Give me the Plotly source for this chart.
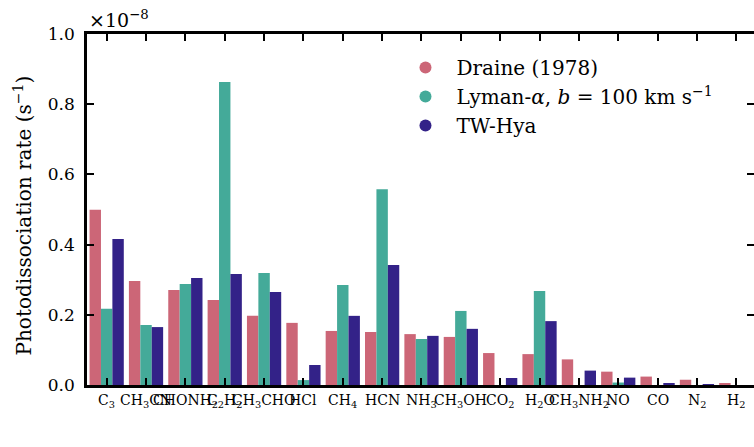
import plotly.graph_objects as go

molecules = ["C<sub>3</sub>", "CH<sub>3</sub>CN", "CHONH<sub>2</sub>", "C<sub>2</sub>H<sub>2</sub>",
             "CH<sub>3</sub>CHO", "HCl", "CH<sub>4</sub>", "HCN", "NH<sub>3</sub>",
             "CH<sub>3</sub>OH", "CO<sub>2</sub>", "H<sub>2</sub>O", "CH<sub>3</sub>NH<sub>2</sub>",
             "NO", "CO", "N<sub>2</sub>", "H<sub>2</sub>"]

draine = [0.499, 0.296, 0.271, 0.242, 0.197, 0.177, 0.154, 0.151, 0.145,
          0.137, 0.091, 0.088, 0.073, 0.038, 0.024, 0.015, 0.003]
lyman = [0.217, 0.171, 0.288, 0.863, 0.319, 0.014, 0.285, 0.558, 0.131,
         0.211, 0.0, 0.268, 0.0, 0.007, 0.0, 0.0, 0.0]
twhya = [0.416, 0.165, 0.305, 0.316, 0.265, 0.057, 0.197, 0.342, 0.140,
         0.160, 0.020, 0.182, 0.041, 0.021, 0.003, 0.002, 0.0]

names = ["Draine (1978)", "Lyman-<i>α</i>, <i>b</i> = 100 km s<sup>−1</sup>", "TW-Hya"]
colors = ["#CC6677", "#44AA99", "#332288"]
yticks = [0.0, 0.2, 0.4, 0.6, 0.8, 1.0]
ylabel = "Photodissociation rate (s<sup>−1</sup>)"

FONT = "DejaVu Serif"
fig = go.Figure()
for vals, nm, c in zip([draine, lyman, twhya], names, colors):
    fig.add_trace(go.Bar(x=molecules, y=vals, name=nm, marker=dict(color=c, line=dict(width=0)),
                         showlegend=False))
for nm, c in zip(names, colors):
    fig.add_trace(go.Scatter(x=[None], y=[None], mode="markers", name=nm,
                             marker=dict(color=c, size=17, symbol="circle")))

fig.update_layout(
    width=754, height=447,
    margin=dict(l=87, r=0, t=34, b=62),
    barmode="group", bargap=0.13, bargroupgap=0,
    plot_bgcolor="white", paper_bgcolor="white",
    font=dict(family=FONT, color="black", size=18),
    legend=dict(x=0.461, y=0.96, xanchor="left", yanchor="top",
                font=dict(size=20, family=FONT), bgcolor="rgba(0,0,0,0)",
                itemsizing="constant", itemwidth=52, tracegroupgap=0),
    xaxis=dict(type="category", range=[-0.5, 16.45], showticklabels=False,
               ticks="inside", ticklen=7, tickwidth=1.5, tickcolor="black",
               showline=True, linewidth=2.5, linecolor="black", mirror="ticks",
               showgrid=False, zeroline=False, automargin=False),
    yaxis=dict(range=[0, 1.0], tickvals=yticks, tickformat=".1f",
               ticks="inside", ticklen=7, tickwidth=1.5, tickcolor="black",
               showline=True, linewidth=2.5, linecolor="black", mirror="ticks",
               showgrid=False, zeroline=False, automargin=False,
               ticklabelstandoff=6,
               tickfont=dict(size=17, family=FONT)),
)
# category labels under each tick
for m in molecules:
    fig.add_annotation(text=m, x=m, xref="x", y=0, yref="paper",
                       xanchor="center", yanchor="top", showarrow=False, yshift=-5,
                       font=dict(size=14, family=FONT))
# y-axis title
fig.add_annotation(text=ylabel, xref="paper", yref="paper", x=0, y=0.5,
                   xanchor="center", yanchor="middle", xshift=-65, yshift=-6,
                   textangle=-90, showarrow=False, font=dict(size=20, family=FONT))
fig.add_annotation(text="×10<sup>−8</sup>", xref="paper", yref="paper", x=0.0, y=1.0,
                   xanchor="left", yanchor="bottom", showarrow=False,
                   font=dict(size=19, family=FONT), yshift=1)
fig.write_html("out.html")
